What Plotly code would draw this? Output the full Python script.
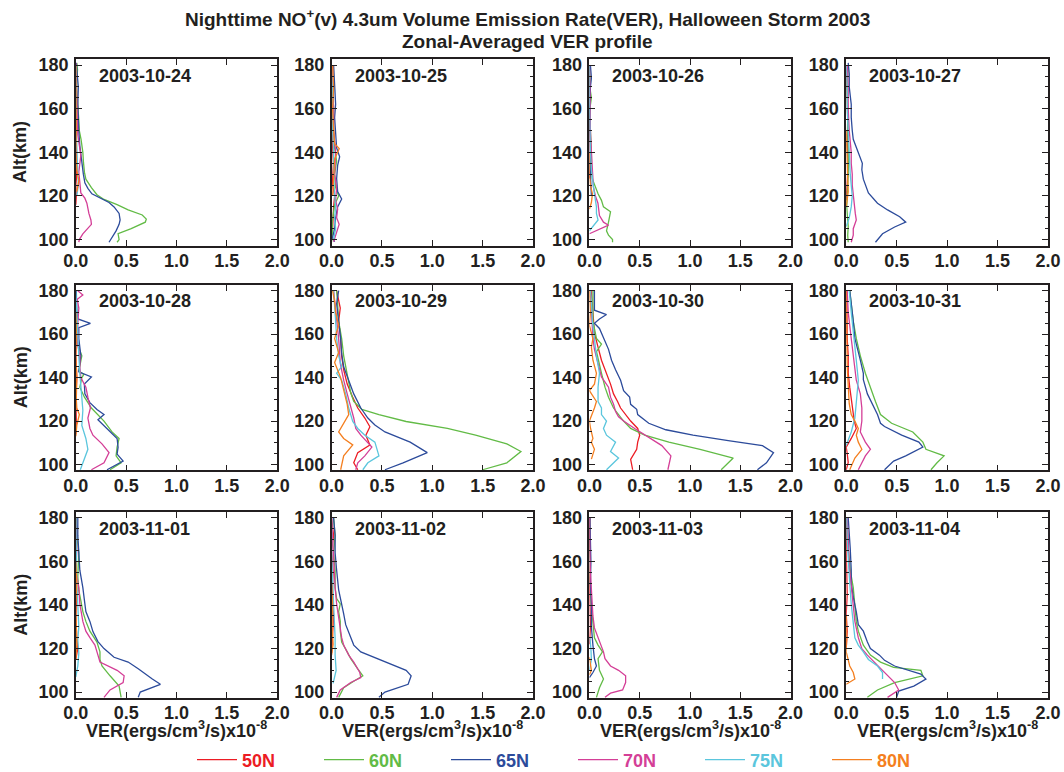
import plotly.graph_objects as go

# ---------------- data ----------------
DATES = ["2003-10-24", "2003-10-25", "2003-10-26", "2003-10-27",
         "2003-10-28", "2003-10-29", "2003-10-30", "2003-10-31",
         "2003-11-01", "2003-11-02", "2003-11-03", "2003-11-04"]
LATS = ["50N", "60N", "65N", "70N", "75N", "80N"]
COLORS = {"50N": "#ec1c24", "60N": "#62bb46", "65N": "#2c4b9b",
          "70N": "#d43f97", "75N": "#5bc6dd", "80N": "#f47f20"}

X_TICKS = [0.0, 0.5, 1.0, 1.5, 2.0]
Y_TICKS = [100, 120, 140, 160, 180]

# each profile: list of (altitude km, VER x1e-8)
D1024 = {
    "50N": [(116, 0.0), (120, 0.005), (125, 0.0), (130, 0.01), (140, 0.005), (150, 0.0), (160, 0.01), (170, 0.005), (180, 0.0)],
    "60N": [(98.8, 0.41), (100, 0.43), (102.7, 0.42), (105, 0.55), (108, 0.69), (109.4, 0.70), (111.3, 0.66), (113.6, 0.52), (116, 0.41), (118.4, 0.28), (120.6, 0.21), (123.8, 0.155), (127.7, 0.10), (130.8, 0.086), (135.5, 0.076), (140, 0.07), (146, 0.052), (150, 0.035), (156, 0.028), (162, 0.017), (170, 0.008), (178, 0.017), (181, 0.01)],
    "65N": [(98.8, 0.33), (101, 0.36), (104, 0.40), (107, 0.43), (109, 0.44), (112, 0.43), (115, 0.38), (117, 0.33), (119, 0.24), (121, 0.16), (123.5, 0.12), (126, 0.09), (130, 0.075), (135, 0.06), (140, 0.05), (143, 0.04), (149.5, 0.03), (155, 0.025), (162, 0.02), (170, 0.025), (176, 0.015), (181, 0.005)],
    "70N": [(98.8, 0.03), (100, 0.035), (102.6, 0.07), (105, 0.12), (107, 0.155), (109, 0.15), (112, 0.13), (116.7, 0.11), (119, 0.09), (121.4, 0.05), (125, 0.04), (131, 0.03), (138.6, 0.05), (142, 0.04), (148, 0.02), (155, 0.015), (165, 0.01), (175, 0.005), (181, 0.0)],
    "75N": [(120, 0.01), (125, 0.025), (130, 0.02), (135, 0.015), (140, 0.01), (150, 0.005), (160, 0.005), (170, 0.0), (180, 0.0)],
    "80N": [(122, 0.01), (127, 0.03), (132, 0.01), (140, 0.0), (150, 0.005), (165, 0.0), (180, 0.0)],
}
D1025 = {
    "50N": [(100, 0.005), (110, 0.01), (115, 0.02), (120, 0.03), (125, 0.01), (135, 0.0), (145, 0.01), (155, 0.0), (165, 0.01), (180, 0.0)],
    "60N": [(99, 0.0), (104, 0.01), (108, 0.005), (112, 0.02), (116, 0.03), (120, 0.07), (124, 0.04), (130, 0.03), (136, 0.05), (142, 0.03), (150, 0.02), (160, 0.02), (170, 0.01), (180, 0.01)],
    "65N": [(99, 0.03), (101, 0.01), (105, 0.03), (110, 0.04), (115, 0.06), (118.6, 0.10), (122, 0.06), (128, 0.05), (134, 0.06), (138, 0.08), (142, 0.05), (150, 0.04), (156, 0.03), (162, 0.04), (170, 0.03), (180, 0.02)],
    "70N": [(99, 0.02), (103, 0.05), (107, 0.075), (110, 0.05), (114, 0.06), (118, 0.04), (124, 0.05), (130, 0.03), (140, 0.04), (150, 0.02), (160, 0.02), (170, 0.01), (180, 0.01)],
    "75N": [(100, 0.02), (105, 0.04), (110, 0.03), (115, 0.04), (120, 0.03), (130, 0.02), (140, 0.02), (150, 0.01), (165, 0.01), (180, 0.0)],
    "80N": [(120, 0.01), (130, 0.02), (137, 0.03), (141.7, 0.076), (144, 0.03), (150, 0.02), (160, 0.01), (170, 0.02), (180, 0.01)],
}
D1026 = {
    "50N": [(128, 0.0), (135, 0.01), (145, 0.005), (155, 0.0), (165, 0.01), (175, 0.0), (180, 0.005)],
    "60N": [(98.8, 0.23), (100, 0.23), (102, 0.19), (104, 0.17), (108, 0.19), (112.8, 0.21), (115, 0.14), (118, 0.12), (121, 0.086), (124, 0.06), (127.7, 0.03), (132, 0.02), (140, 0.02), (150, 0.01), (160, 0.005), (165, 0.02), (168, 0.01), (175, 0.005), (180, 0.0)],
    "65N": [(120, 0.02), (125, 0.015), (130, 0.01), (135, 0.005), (140, 0.01), (150, 0.005), (160, 0.005), (170, 0.01), (174, 0.02), (180, 0.01)],
    "70N": [(102.7, 0.0), (106.6, 0.19), (108, 0.14), (111, 0.10), (116.7, 0.085), (120, 0.06), (124, 0.04), (130, 0.03), (140, 0.02), (150, 0.01), (160, 0.01), (170, 0.005), (180, 0.0)],
    "75N": [(104, 0.0), (109, 0.086), (112, 0.07), (115, 0.07), (121, 0.05), (127, 0.03), (132, 0.02), (140, 0.01), (150, 0.005), (165, 0.0), (180, 0.0)],
    "80N": [(114, 0.0), (117, 0.02), (121, 0.03), (125, 0.01), (130, 0.0), (140, 0.0)],
}
D1027 = {
    "50N": [(118, 0.0), (125, 0.01), (135, 0.02), (145, 0.01), (155, 0.015), (165, 0.01), (175, 0.005), (180, 0.01)],
    "60N": [(98.8, 0.02), (102, 0.015), (106, 0.02), (110, 0.01), (115, 0.005), (120, 0.01), (130, 0.02), (140, 0.02), (150, 0.015), (160, 0.01), (170, 0.01), (180, 0.02)],
    "65N": [(98.8, 0.29), (102.7, 0.36), (105.8, 0.48), (108, 0.59), (110.5, 0.53), (113.6, 0.41), (116.7, 0.31), (121.4, 0.22), (127.7, 0.17), (132, 0.155), (135, 0.16), (140, 0.12), (146, 0.07), (150, 0.06), (156, 0.05), (162, 0.05), (170, 0.03), (176, 0.03), (181, 0.02)],
    "70N": [(98.8, 0.05), (102, 0.07), (105, 0.07), (109, 0.10), (112, 0.09), (116, 0.08), (120, 0.07), (125, 0.06), (130, 0.06), (135, 0.05), (140, 0.05), (150, 0.03), (160, 0.02), (170, 0.02), (180, 0.01)],
    "75N": [(106, 0.0), (110, 0.03), (115, 0.05), (120, 0.06), (125, 0.05), (130, 0.04), (140, 0.03), (150, 0.02), (160, 0.01), (170, 0.01), (180, 0.0)],
    "80N": [(115, 0.0), (118, 0.01), (122, 0.02), (128, 0.015), (135, 0.01), (142, 0.005), (150, 0.0)],
}
D1028 = {
    "50N": [(114, 0.0), (120, 0.005), (130, 0.0), (140, 0.01), (150, 0.0), (160, 0.005), (170, 0.0), (180, 0.005)],
    "60N": [(97.6, 0.34), (100.8, 0.45), (104, 0.40), (108, 0.41), (112, 0.43), (115, 0.36), (120, 0.28), (126, 0.155), (131, 0.086), (135.6, 0.04), (140, 0.06), (141.5, 0.08), (143, 0.03), (150, 0.06), (155, 0.02), (160, 0.01), (170, 0.01), (180, 0.0)],
    "65N": [(97.6, 0.31), (101.6, 0.47), (104.8, 0.41), (108, 0.42), (112, 0.41), (115, 0.34), (117.4, 0.29), (120.6, 0.22), (123, 0.28), (125.3, 0.21), (128.5, 0.14), (132.5, 0.09), (137, 0.085), (140.3, 0.155), (142.7, 0.03), (150, 0.05), (158, 0.03), (163, 0.03), (165, 0.145), (167, 0.02), (170, 0.01), (180, 0.005)],
    "70N": [(97.6, 0.155), (100.8, 0.28), (105.5, 0.33), (109.5, 0.26), (113.5, 0.17), (116.6, 0.14), (121.4, 0.12), (126, 0.145), (131, 0.12), (135.6, 0.10), (140, 0.05), (145, 0.04), (150, 0.04), (155, 0.02), (165, 0.02), (172, 0.03), (176, 0.015), (178, 0.07), (180, 0.02)],
    "75N": [(97.6, 0.045), (102, 0.08), (107, 0.12), (112, 0.10), (118, 0.06), (125, 0.07), (130, 0.06), (135.6, 0.05), (142, 0.04), (150, 0.03), (160, 0.02), (170, 0.01), (180, 0.0)],
    "80N": [(113, 0.0), (118, 0.01), (123, 0.035), (126, 0.01), (130, 0.005), (140, 0.01), (150, 0.0), (160, 0.005), (170, 0.0)],
}
D1029 = {
    "50N": [(97.6, 0.26), (100.8, 0.22), (105.5, 0.26), (109, 0.38), (113.5, 0.34), (117.4, 0.38), (121.4, 0.33), (126, 0.26), (130.9, 0.21), (137, 0.155), (143.6, 0.12), (150, 0.10), (158, 0.09), (166, 0.07), (172, 0.086), (180, 0.05)],
    "60N": [(97.6, 1.50), (100.8, 1.74), (106, 1.88), (109.5, 1.74), (113.5, 1.43), (116.6, 1.15), (119.8, 0.74), (123, 0.47), (125.4, 0.30), (129, 0.22), (133, 0.19), (142, 0.155), (150, 0.12), (158, 0.10), (166, 0.07), (174, 0.06), (180, 0.05)],
    "65N": [(97.6, 0.53), (100.8, 0.71), (105.5, 0.95), (110.3, 0.78), (115, 0.53), (118.2, 0.43), (121.4, 0.36), (126, 0.29), (132.5, 0.22), (138.8, 0.17), (145, 0.12), (151, 0.10), (158, 0.09), (166, 0.07), (174, 0.05), (180, 0.07)],
    "70N": [(97.6, 0.24), (100.8, 0.26), (104, 0.33), (108, 0.40), (113.5, 0.29), (116.6, 0.24), (121.4, 0.22), (126, 0.19), (132.5, 0.155), (138.8, 0.12), (146.7, 0.086), (158, 0.07), (166, 0.05), (180, 0.02)],
    "75N": [(97.6, 0.31), (100.8, 0.36), (104, 0.47), (110.3, 0.43), (113.5, 0.33), (116.6, 0.26), (119.8, 0.21), (126, 0.17), (132.5, 0.14), (138.8, 0.10), (142, 0.05), (145, 0.10), (150, 0.07), (158, 0.05), (166, 0.04), (175, 0.03), (180, 0.02)],
    "80N": [(97.6, 0.09), (104, 0.12), (109, 0.21), (112, 0.12), (115, 0.07), (119, 0.12), (123, 0.17), (127.7, 0.155), (134, 0.12), (140, 0.09), (147, 0.03), (151.5, 0.07), (158, 0.03), (164, 0.07), (170, 0.04), (175, 0.03), (180, 0.01)],
}
D1030 = {
    "50N": [(97.6, 0.43), (102.4, 0.41), (107, 0.47), (110.3, 0.48), (113.5, 0.50), (116.6, 0.48), (120, 0.41), (123, 0.36), (126, 0.31), (129, 0.28), (132.5, 0.24), (137, 0.21), (142, 0.17), (148, 0.12), (154, 0.086), (160.5, 0.05), (170, 0.035), (180, 0.017)],
    "60N": [(97.6, 1.31), (100.8, 1.38), (103, 1.43), (107, 1.10), (110.3, 0.79), (113.5, 0.55), (116.6, 0.41), (120, 0.34), (123, 0.29), (126, 0.24), (131, 0.19), (135.6, 0.155), (142, 0.12), (148, 0.086), (152, 0.07), (155.4, 0.12), (158, 0.07), (166, 0.035), (174, 0.035), (180, 0.035)],
    "65N": [(97.6, 1.67), (100.8, 1.76), (105.5, 1.83), (108.7, 1.72), (111, 1.38), (113.5, 1.03), (116, 0.76), (119, 0.59), (123, 0.48), (125.4, 0.47), (127.7, 0.41), (131, 0.40), (134, 0.34), (138.8, 0.31), (143.6, 0.26), (148, 0.22), (153, 0.19), (158, 0.14), (162.6, 0.10), (165, 0.05), (167, 0.10), (169, 0.17), (171, 0.05), (175, 0.05), (180, 0.05)],
    "70N": [(97.6, 0.78), (104, 0.81), (108.7, 0.72), (113.5, 0.55), (116.6, 0.45), (120, 0.34), (122, 0.29), (124.4, 0.26), (127.7, 0.24), (131, 0.21), (135.6, 0.19), (140.3, 0.12), (146.7, 0.086), (153, 0.05), (158, 0.035), (170, 0.02), (180, 0.01)],
    "75N": [(97.6, 0.17), (103, 0.29), (106, 0.21), (110.3, 0.26), (113.5, 0.17), (116.6, 0.14), (120, 0.17), (123, 0.12), (126, 0.12), (129, 0.086), (135.6, 0.086), (142, 0.10), (150, 0.07), (158, 0.05), (166, 0.03), (175, 0.02), (180, 0.01)],
    "80N": [(102.5, 0.02), (107, 0.05), (110.3, 0.02), (112, 0.035), (117, 0.01), (120, 0.0), (126, 0.05), (129, 0.07), (134, 0.0), (137, 0.05), (142, 0.07), (148, 0.035), (154, 0.02), (158, 0.035), (164, 0.0), (170, 0.01), (180, 0.0)],
}
D1031 = {
    "50N": [(97.6, 0.0), (101, 0.02), (105, 0.01), (108, 0.0), (112, 0.05), (116.6, 0.10), (120, 0.08), (123, 0.07), (129, 0.05), (135.6, 0.035), (142, 0.02), (150, 0.02), (158, 0.01), (170, 0.005), (180, 0.005)],
    "60N": [(97.6, 0.84), (100.8, 0.90), (104, 0.97), (107, 0.79), (110.3, 0.76), (115, 0.66), (119, 0.45), (123, 0.34), (129, 0.29), (135.6, 0.24), (142, 0.19), (150, 0.14), (158, 0.10), (166, 0.07), (174, 0.05), (180, 0.035)],
    "65N": [(97.6, 0.38), (101.6, 0.47), (104, 0.59), (108, 0.76), (110.3, 0.72), (113.5, 0.55), (117.5, 0.38), (119, 0.34), (123, 0.31), (128, 0.26), (132.5, 0.21), (139, 0.17), (142, 0.17), (148, 0.14), (158, 0.086), (166, 0.07), (174, 0.05), (180, 0.035)],
    "70N": [(97.6, 0.12), (104, 0.19), (107, 0.24), (110.3, 0.19), (115, 0.14), (120, 0.155), (126, 0.155), (132.5, 0.14), (138.8, 0.10), (145, 0.086), (158, 0.05), (170, 0.02), (180, 0.01)],
    "75N": [(108.7, 0.0), (115, 0.05), (121.4, 0.086), (129, 0.10), (138.8, 0.12), (148, 0.10), (160, 0.07), (170, 0.05), (180, 0.03)],
    "80N": [(97.6, 0.035), (103, 0.086), (107, 0.155), (110.3, 0.12), (113.5, 0.10), (116.6, 0.12), (120, 0.086), (123, 0.05), (128, 0.03), (135, 0.02), (145, 0.01), (160, 0.005), (180, 0.0)],
}
D1101 = {
    "50N": [(115, 0.0), (120, 0.02), (125, 0.01), (135, 0.0), (145, 0.01), (155, 0.0), (165, 0.005), (175, 0.01), (180, 0.0)],
    "60N": [(97.6, 0.45), (102.8, 0.43), (107.5, 0.34), (112, 0.26), (115, 0.24), (118.5, 0.24), (123, 0.21), (128, 0.14), (132.5, 0.10), (137, 0.07), (142, 0.05), (146.7, 0.03), (153, 0.02), (164, 0.03), (172, 0.01), (180, 0.005)],
    "65N": [(97.6, 0.62), (100, 0.64), (103.6, 0.84), (106, 0.76), (110.7, 0.62), (113.8, 0.52), (116, 0.38), (120, 0.28), (123.2, 0.22), (127.8, 0.17), (132.5, 0.14), (137, 0.10), (142, 0.086), (148, 0.07), (156, 0.04), (164, 0.03), (172, 0.02), (180, 0.02)],
    "70N": [(97.6, 0.28), (101, 0.34), (104.4, 0.47), (107.5, 0.48), (110, 0.41), (113.8, 0.24), (117, 0.22), (121.6, 0.19), (125, 0.14), (128, 0.10), (132.5, 0.07), (140.5, 0.04), (148, 0.03), (156, 0.0), (165, 0.01), (180, 0.0)],
    "75N": [(107, 0.0), (112, 0.02), (118, 0.03), (124, 0.02), (130, 0.03), (140, 0.02), (150, 0.01), (165, 0.005), (180, 0.0)],
    "80N": [(115, 0.0), (122, 0.01), (130, 0.005), (140, 0.0), (150, 0.01), (160, 0.0)],
}
D1102 = {
    "50N": [(118, 0.0), (125, 0.01), (135, 0.02), (145, 0.005), (155, 0.015), (165, 0.0), (172, 0.02), (180, 0.0)],
    "60N": [(97.6, 0.07), (102, 0.12), (105, 0.22), (107.5, 0.31), (110.7, 0.26), (115.4, 0.19), (118.5, 0.155), (123, 0.10), (128, 0.086), (132.5, 0.086), (137, 0.07), (140.5, 0.086), (143, 0.05), (148, 0.035), (156, 0.035), (164, 0.02), (172, 0.035), (180, 0.02)],
    "65N": [(97.6, 0.47), (100, 0.53), (103.6, 0.76), (107.5, 0.79), (110, 0.74), (113.8, 0.53), (117, 0.36), (118.5, 0.29), (121.6, 0.22), (125, 0.19), (128, 0.17), (131, 0.14), (136, 0.12), (140.5, 0.10), (147, 0.07), (156, 0.05), (164, 0.035), (172, 0.035), (180, 0.02)],
    "70N": [(97.6, 0.05), (101, 0.086), (104.4, 0.19), (106.7, 0.29), (109, 0.28), (113.8, 0.22), (117, 0.17), (121.6, 0.12), (125, 0.10), (129.5, 0.086), (134, 0.07), (140.5, 0.05), (148, 0.035), (160, 0.02), (170, 0.01), (180, 0.0)],
    "75N": [(104, 0.015), (110, 0.045), (117, 0.035), (125, 0.035), (140, 0.02), (150, 0.01), (165, 0.0), (180, 0.0)],
    "80N": [(117, 0.0), (122, 0.015), (130, 0.005), (140, 0.01), (150, 0.0)],
}
D1103 = {
    "50N": [(122, 0.0), (130, 0.01), (140, 0.005), (150, 0.0), (160, 0.01), (170, 0.0), (180, 0.005)],
    "60N": [(97.6, 0.07), (102, 0.10), (106, 0.14), (110, 0.10), (115.4, 0.086), (118.5, 0.13), (121.6, 0.086), (125, 0.05), (132, 0.035), (140, 0.02), (150, 0.01), (160, 0.01), (170, 0.005), (180, 0.0)],
    "65N": [(106.7, 0.0), (109, 0.035), (112, 0.07), (115.4, 0.05), (121.6, 0.035), (130, 0.02), (140, 0.02), (150, 0.01), (160, 0.015), (170, 0.01), (180, 0.005)],
    "70N": [(97.6, 0.155), (99.5, 0.21), (101, 0.33), (104.4, 0.36), (107.5, 0.36), (110, 0.29), (112, 0.21), (115.4, 0.155), (118.5, 0.14), (125, 0.086), (129.5, 0.05), (135, 0.035), (145, 0.02), (155, 0.01), (165, 0.005), (180, 0.0)],
    "75N": [(110, 0.0), (115, 0.02), (120, 0.015), (125, 0.005)],
    "80N": [(108, 0.0), (110, 0.02), (113, 0.01), (116, 0.0)],
}
D1104 = {
    "50N": [(120, 0.0), (128, 0.01), (136, 0.0), (145, 0.01), (155, 0.005), (165, 0.0), (175, 0.005), (180, 0.0)],
    "60N": [(97.6, 0.21), (101, 0.31), (104.4, 0.48), (107.5, 0.76), (110, 0.74), (111.4, 0.47), (113.8, 0.34), (117, 0.24), (121.6, 0.17), (125, 0.14), (128, 0.12), (132.5, 0.10), (140.5, 0.086), (148, 0.07), (156, 0.04), (166, 0.02), (180, 0.01)],
    "65N": [(97.6, 0.50), (100.5, 0.52), (102.8, 0.67), (106, 0.79), (108.3, 0.74), (112, 0.48), (114.6, 0.38), (117, 0.33), (120, 0.24), (123, 0.21), (128, 0.17), (131, 0.12), (137, 0.10), (143.6, 0.07), (150, 0.05), (156, 0.05), (166, 0.04), (180, 0.02)],
    "70N": [(97.6, 0.41), (101, 0.52), (104.4, 0.48), (109, 0.38), (113.8, 0.28), (117, 0.21), (120, 0.155), (125, 0.12), (132.5, 0.086), (140.5, 0.07), (148, 0.05), (158, 0.03), (170, 0.02), (180, 0.01)],
    "75N": [(106, 0.36), (109, 0.36), (112, 0.31), (115, 0.22), (118.5, 0.17), (121.6, 0.12), (125, 0.086), (131, 0.07), (140.5, 0.05), (150, 0.035), (160, 0.02), (170, 0.01), (180, 0.005)],
    "80N": [(103.6, 0.0), (106, 0.086), (109, 0.07), (112, 0.035), (115.4, 0.017), (118.5, 0.0), (125, 0.005), (135, 0.0)],
}
PROFILES = [D1024, D1025, D1026, D1027, D1028, D1029,
            D1030, D1031, D1101, D1102, D1103, D1104]

# ---------------- layout geometry (pixels) ----------------
W, H = 1064, 772
COLS = [(75.8, 277.2), (331.6, 533.0), (589.4, 790.6), (846.2, 1048.0)]
ROWS = [(59.2, 245.5), (284.8, 470.4), (512.1, 698.0)]
FONT = "Liberation Sans, Arial, Helvetica, sans-serif"
FS = 18
INK = "#231f20"


def px(v):
    return v / W


def py(v):
    return 1 - v / H


fig = go.Figure()
layout = dict(width=W, height=H, margin=dict(l=0, r=0, t=0, b=0, autoexpand=False),
              paper_bgcolor="white", plot_bgcolor="white",
              font=dict(family=FONT, size=FS, color=INK, weight="bold"),
              showlegend=True)
annotations = []

for i, date in enumerate(DATES):
    r, c = divmod(i, 4)
    k = i + 1
    xa = "x" if k == 1 else f"x{k}"
    ya = "y" if k == 1 else f"y{k}"
    x0, x1 = COLS[c]
    y0, y1 = ROWS[r]
    layout["xaxis" if k == 1 else f"xaxis{k}"] = dict(
        domain=[px(x0), px(x1)], anchor=ya, range=[0, 2.0],
        tickvals=X_TICKS, ticktext=[f"{v:.1f}" for v in X_TICKS],
        ticks="inside", ticklen=6, tickwidth=1.2, tickcolor=INK,
        showline=True, linecolor=INK, linewidth=1.5, mirror="ticks",
        showgrid=False, zeroline=False, automargin=False, ticklabelstandoff=-2,
        tickfont=dict(family=FONT, size=FS, color=INK, weight="bold"),
    )
    layout["yaxis" if k == 1 else f"yaxis{k}"] = dict(
        domain=[py(y1), py(y0)], anchor=xa, range=[97.3, 182.7],
        tickvals=Y_TICKS, ticks="inside", ticklen=6, tickwidth=1.2, tickcolor=INK,
        minor=dict(dtick=5, tick0=100, ticks="inside", ticklen=3, tickcolor=INK, showgrid=False),
        showline=True, linecolor=INK, linewidth=1.5, mirror="ticks",
        showgrid=False, zeroline=False, ticklabelstandoff=2, automargin=False,
        tickfont=dict(family=FONT, size=FS, color=INK, weight="bold"),
    )
    prof = PROFILES[i]
    for lat in LATS:
        pts = prof[lat]
        fig.add_trace(go.Scatter(
            x=[p[1] for p in pts], y=[p[0] for p in pts], mode="lines",
            line=dict(color=COLORS[lat], width=1.3),
            xaxis=xa, yaxis=ya,
            name=f'<span style="color:{COLORS[lat]}">{lat}</span>',
            legendgroup=lat, showlegend=(i == 0), cliponaxis=True,
        ))
    annotations.append(dict(
        text=date, xref=f"{xa} domain", yref=f"{ya} domain",
        x=0.104, y=0.911, xanchor="left", yanchor="middle", showarrow=False,
        font=dict(family=FONT, size=FS, color=INK, weight="bold")))
    if c == 0:
        annotations.append(dict(
            text="Alt(km)", xref="paper", yref="paper",
            x=px(20.7), y=py((y0 + y1) / 2), textangle=-90,
            xanchor="center", yanchor="middle", showarrow=False,
            font=dict(family=FONT, size=FS, color=INK, weight="bold")))
    if r == 2:
        annotations.append(dict(
            text="VER(ergs/cm<sup>3</sup>/s)x10<sup>-8</sup>", xref="paper", yref="paper",
            x=px((x0 + x1) / 2), y=py(729),
            xanchor="center", yanchor="middle", showarrow=False,
            font=dict(family=FONT, size=FS, color=INK, weight="bold")))

annotations.append(dict(
    text="Nighttime NO<sup>+</sup>(v) 4.3um Volume Emission Rate(VER), Halloween Storm 2003",
    xref="paper", yref="paper", x=px(527), y=py(18),
    xanchor="center", yanchor="middle", showarrow=False,
    font=dict(family=FONT, size=19, color=INK, weight="bold")))
annotations.append(dict(
    text="Zonal-Averaged VER profile",
    xref="paper", yref="paper", x=px(527), y=py(42),
    xanchor="center", yanchor="middle", showarrow=False,
    font=dict(family=FONT, size=19, color=INK, weight="bold")))

layout["annotations"] = annotations
layout["legend"] = dict(
    orientation="h", x=px(192), xanchor="left", y=py(760), yanchor="middle",
    entrywidth=72, entrywidthmode="pixels", bgcolor="rgba(0,0,0,0)",
    font=dict(family=FONT, size=FS, color=INK, weight="bold"),
    itemwidth=40, tracegroupgap=0)

fig.update_layout(**layout)
fig.write_html(
    "out.html",
    config={"displayModeBar": False},
    post_script="document.body.style.margin='0';document.body.style.overflow='hidden';",
)
